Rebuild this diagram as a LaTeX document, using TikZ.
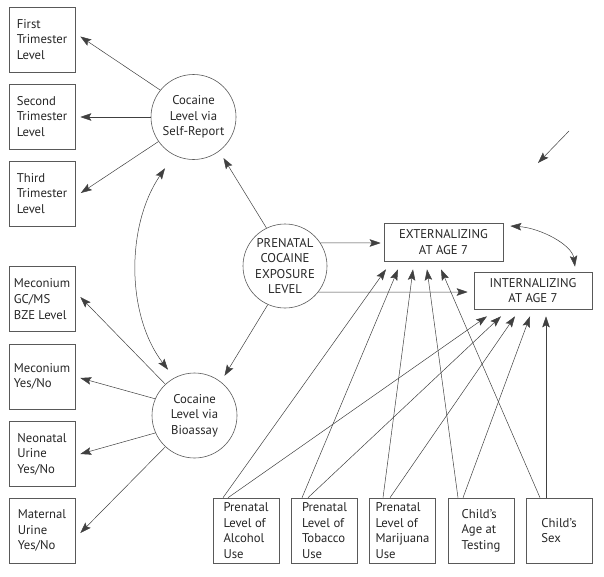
\documentclass[tikz,border=0pt]{standalone}
\usepackage{fontspec}
\setmainfont{PT Sans}
\usetikzlibrary{arrows.meta,calc}
\begin{document}
\begin{tikzpicture}[x=1pt,y=-1pt,
  every node/.style={font=\fontsize{12.7}{15.6}\selectfont, text=black!85},
  box/.style={draw=black!65, line width=0.6pt, minimum width=66pt, minimum height=65pt, align=left, inner sep=0pt},
  wbox/.style={draw=black!65, line width=0.6pt, align=center, inner sep=0pt},
  circ/.style={draw=black!65, line width=0.6pt, circle, minimum size=85pt, align=center, inner sep=0pt},
  tipa/.tip={Stealth[length=11pt,width=7.5pt,inset=2pt]},
  arr/.style={draw=black!75, line width=0.5pt, -tipa},
  dbl/.style={draw=black!75, line width=0.5pt, tipa-tipa},
]
\useasboundingbox (0,0) rectangle (604,576);

% left boxes
\node[box] (first)  at (42,39.5)  {First\\Trimester\\Level};
\node[box] (second) at (42,116.5) {Second\\Trimester\\Level};
\node[box] (third)  at (42,193.5) {Third\\Trimester\\Level};
\node[box] (mecgc)  at (42,299)   {Meconium\\GC/MS\\BZE Level};
\node[box] (mecyn)  at (42,376.5) {Meconium\\Yes/No};
\node[box] (neo)    at (42,454)   {Neonatal\\Urine\\Yes/No};
\node[box] (mat)    at (42,530.5) {Maternal\\Urine\\Yes/No};

% circles
\node[circ] (sr)  at (193.5,117)  {Cocaine\\Level via\\Self-Report};
\node[circ] (bio) at (194.5,415.5) {Cocaine\\Level via\\Bioassay};
\node[circ, minimum size=84pt] (pce) at (285,266) {PRENATAL\\COCAINE\\EXPOSURE\\LEVEL};

% outcome boxes
\node[wbox, minimum width=119pt, minimum height=38pt] (ext) at (443.5,242) {EXTERNALIZING\\AT AGE 7};
\node[wbox, minimum width=118pt, minimum height=37pt] (int) at (533,290.5) {INTERNALIZING\\AT AGE 7};

% bottom boxes
\node[box] (b1) at (246,530.5)   {Prenatal\\Level of\\Alcohol\\Use};
\node[box] (b2) at (324.5,530.5) {Prenatal\\Level of\\Tobacco\\Use};
\node[box] (b3) at (402.5,530.5) {Prenatal\\Level of\\Marijuana\\Use};
\node[box] (b4) at (481,530.5)   {Child’s\\Age at\\Testing};
\node[box] (b5) at (559,530.5)   {Child’s\\Sex};

% self-report indicators
\draw[arr] (sr.141) -- ($(first.east)+(5,-3)$);
\draw[arr] (sr.west) -- ($(second.east)+(5,0.5)$);
\draw[arr] (sr.215) -- ($(third.east)+(5.5,-0.5)$);

% bioassay indicators
\draw[arr] (bio.133) -- ($(mecgc.east)+(5,-2)$);
\draw[arr] (bio.157) -- ($(mecyn.east)+(5,1.5)$);
\draw[arr] (bio.204) -- ($(neo.east)+(5,0)$);
\draw[arr] (bio.227) -- ($(mat.east)+(5,2.5)$);

% latent to measures
\draw[arr, shorten >=8pt] (pce.116) -- (sr.-53.5);
\draw[arr, shorten >=7pt] (pce.246) -- (bio.52);

% correlation between measures
\draw[dbl] ($(sr.south)+(-28.5,8.5)$) .. controls ($(sr.south)+(-67.5,65.5)$) and ($(bio.north)+(-68.5,-58)$) .. ($(bio.north)+(-26.5,-3)$);

% latent to outcomes
\draw[arr] (pce.33) -- ($(ext.west)+(-3,1)$);
\draw[arr] (pce.-38) -- ($(int.west)+(-6,1.5)$);

% correlation between outcomes
\draw[dbl] ($(ext.east)+(7,-16)$) .. controls ($(ext.east)+(37,-14)$) and ($(int.north)+(39,-27)$) .. ($(int.north)+(42,-5)$);

% covariates
\draw[arr] ($(b1.north)+(-23,0)$) -- ($(ext.south)+(-57.5,8)$);
\draw[arr] ($(b1.north)+(-18,0)$) -- ($(int.south)+(-46,7)$);
\draw[arr] ($(b2.north)+(-22.5,0)$) -- ($(ext.south)+(-45.5,8)$);
\draw[arr] ($(b2.north)+(-16.5,0)$) -- ($(int.south)+(-32,7)$);
\draw[arr] ($(b3.north)+(-19.5,0)$) -- ($(ext.south)+(-30.5,8)$);
\draw[arr] ($(b3.north)+(-12.5,0)$) -- ($(int.south)+(-18,7)$);
\draw[arr] ($(b4.north)+(-23,0)$) -- ($(ext.south)+(-16.5,8)$);
\draw[arr] ($(b4.north)+(-18,0)$) -- ($(int.south)+(-3,7)$);
\draw[arr] ($(b5.north)+(-19,0)$) -- ($(ext.south)+(-2.5,8)$);
\draw[arr] ($(b5.north)+(-13,0)$) -- ($(int.south)+(13,7)$);

% stray arrow
\coordinate (s1) at (569,131);
\coordinate (s2) at (538,163);
\draw[arr] (s1) -- (s2);
\end{tikzpicture}
\end{document}
